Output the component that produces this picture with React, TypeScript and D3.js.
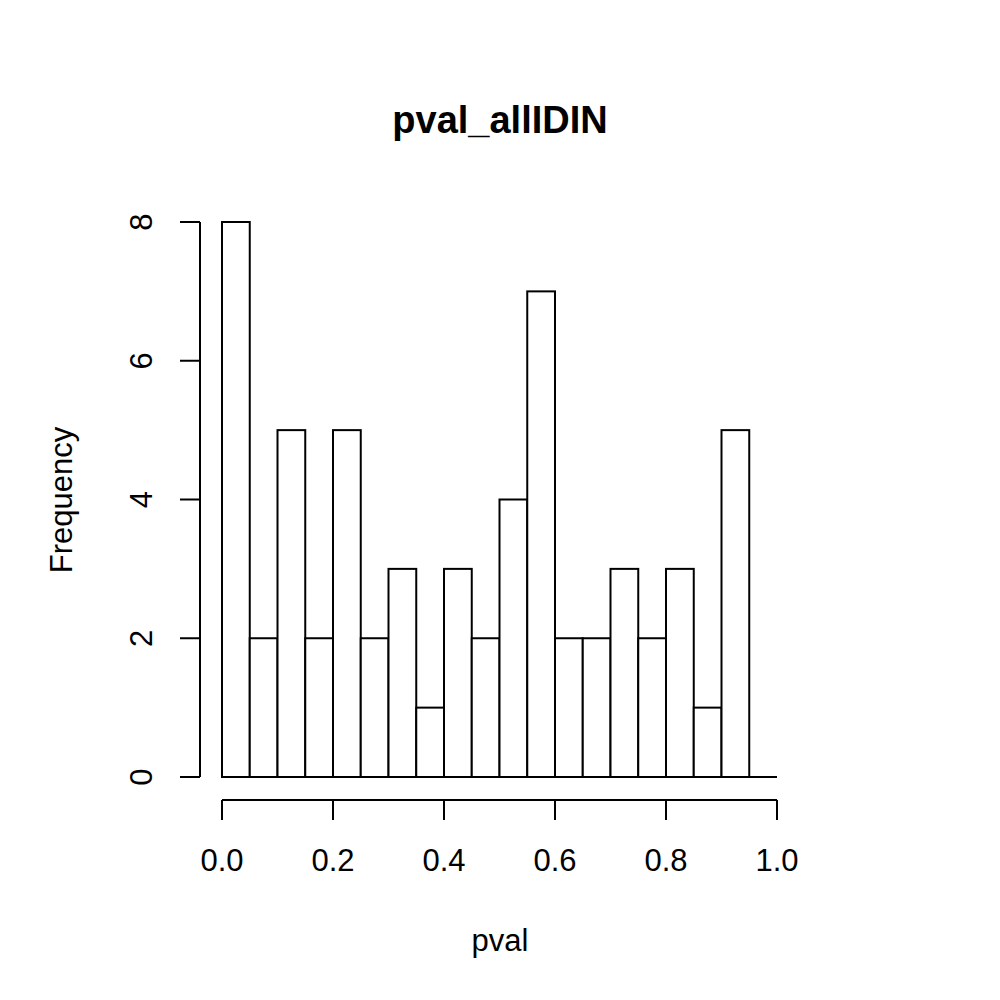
import React from "react";
import * as d3 from "d3";

const binStarts = d3.range(0, 0.95, 0.05);
const counts = [8, 2, 5, 2, 5, 2, 3, 1, 3, 2, 4, 7, 2, 2, 3, 2, 3, 1, 5];
const xTicks = [0, 0.2, 0.4, 0.6, 0.8, 1.0];
const yTicks = [0, 2, 4, 6, 8];

export default function App() {
  const x = d3.scaleLinear().domain([0, 1]).range([222, 777]);
  const y = d3.scaleLinear().domain([0, 8]).range([777, 222]);
  const font = "'Liberation Sans', Arial, sans-serif";

  return (
    <svg width={1000} height={1000} style={{ position: "absolute", left: 0, top: 0, background: "white" }} fontFamily={font}>
      <text x={500} y={133} textAnchor="middle" fontSize={38} fontWeight="bold">pval_allIDIN</text>
      {counts.map((c, i) => (
        <rect key={i} x={x(binStarts[i])} y={y(c)} width={x(binStarts[i] + 0.05) - x(binStarts[i])} height={y(0) - y(c)}
          fill="white" stroke="black" strokeWidth={2} />
      ))}
      <line x1={x(0)} x2={x(1)} y1={y(0)} y2={y(0)} stroke="black" strokeWidth={2} />
      {/* y axis */}
      <line x1={200} x2={200} y1={y(0)} y2={y(8)} stroke="black" strokeWidth={2} />
      {yTicks.map((t) => (
        <g key={t}>
          <line x1={180} x2={200} y1={y(t)} y2={y(t)} stroke="black" strokeWidth={2} />
          <text transform={`translate(152,${y(t)}) rotate(-90)`} textAnchor="middle" fontSize={31}>{t}</text>
        </g>
      ))}
      {/* x axis */}
      <line x1={x(0)} x2={x(1)} y1={800} y2={800} stroke="black" strokeWidth={2} />
      {xTicks.map((t) => (
        <g key={t}>
          <line x1={x(t)} x2={x(t)} y1={800} y2={820} stroke="black" strokeWidth={2} />
          <text x={x(t)} y={871} textAnchor="middle" fontSize={31}>{t.toFixed(1)}</text>
        </g>
      ))}
      <text x={500} y={951} textAnchor="middle" fontSize={31}>pval</text>
      <text transform="translate(72,500) rotate(-90)" textAnchor="middle" fontSize={31}>Frequency</text>
    </svg>
  );
}
